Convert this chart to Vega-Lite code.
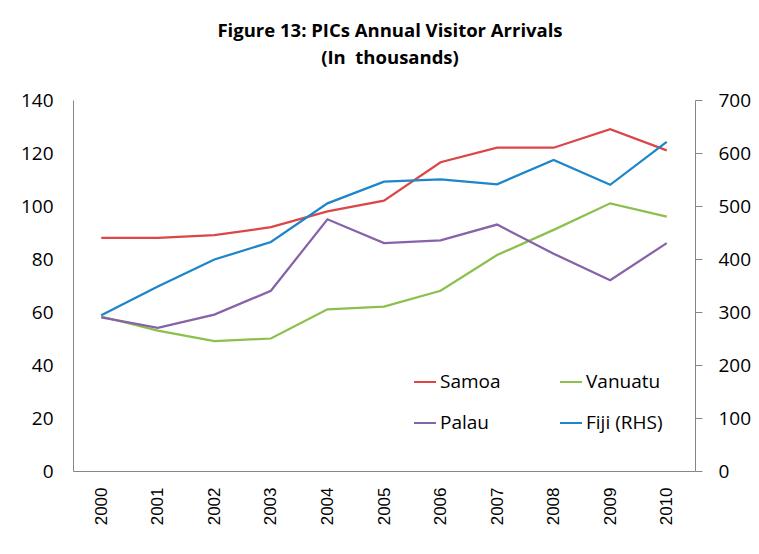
{
  "$schema": "https://vega.github.io/schema/vega-lite/v6.json",
  "width": 622,
  "height": 371,
  "autosize": {"type": "none"},
  "padding": {"left": 73, "top": 100, "right": 64, "bottom": 83},
  "background": "white",
  "config": {
    "view": {"stroke": null},
    "axis": {"grid": false, "domainColor": "#868686", "domainWidth": 1, "labelColor": "#000000", "tickColor": "#868686"},
    "legend": {
      "orient": "none", "legendX": 340, "legendY": 270, "columns": 2, "symbolType": "stroke",
      "symbolSize": 484, "symbolStrokeWidth": 2, "labelFont": "Open Sans", "labelFontSize": 19,
      "labelColor": "#000000", "rowPadding": 19, "columnPadding": 55, "padding": 0, "labelOffset": 3
    }
  },
  "title": {
    "text": ["Figure 13: PICs Annual Visitor Arrivals", "(In\u00a0 thousands)"],
    "font": "Open Sans", "fontSize": 18.5, "fontWeight": "bold", "lineHeight": 27,
    "offset": 24, "dx": 6, "anchor": "middle", "color": "#000000"
  },
  "data": {
    "values": [
      {"year": "2000", "series": "Samoa", "value": 88},
      {"year": "2001", "series": "Samoa", "value": 88},
      {"year": "2002", "series": "Samoa", "value": 89},
      {"year": "2003", "series": "Samoa", "value": 92},
      {"year": "2004", "series": "Samoa", "value": 98},
      {"year": "2005", "series": "Samoa", "value": 102},
      {"year": "2006", "series": "Samoa", "value": 116.5},
      {"year": "2007", "series": "Samoa", "value": 122},
      {"year": "2008", "series": "Samoa", "value": 122},
      {"year": "2009", "series": "Samoa", "value": 129},
      {"year": "2010", "series": "Samoa", "value": 121},
      {"year": "2000", "series": "Vanuatu", "value": 58.3},
      {"year": "2001", "series": "Vanuatu", "value": 53},
      {"year": "2002", "series": "Vanuatu", "value": 49},
      {"year": "2003", "series": "Vanuatu", "value": 50},
      {"year": "2004", "series": "Vanuatu", "value": 61},
      {"year": "2005", "series": "Vanuatu", "value": 62},
      {"year": "2006", "series": "Vanuatu", "value": 68},
      {"year": "2007", "series": "Vanuatu", "value": 81.5},
      {"year": "2008", "series": "Vanuatu", "value": 91},
      {"year": "2009", "series": "Vanuatu", "value": 101},
      {"year": "2010", "series": "Vanuatu", "value": 96},
      {"year": "2000", "series": "Palau", "value": 58},
      {"year": "2001", "series": "Palau", "value": 54},
      {"year": "2002", "series": "Palau", "value": 59},
      {"year": "2003", "series": "Palau", "value": 68},
      {"year": "2004", "series": "Palau", "value": 95},
      {"year": "2005", "series": "Palau", "value": 86},
      {"year": "2006", "series": "Palau", "value": 87},
      {"year": "2007", "series": "Palau", "value": 93},
      {"year": "2008", "series": "Palau", "value": 82},
      {"year": "2009", "series": "Palau", "value": 72},
      {"year": "2010", "series": "Palau", "value": 86},
      {"year": "2000", "series": "Fiji (RHS)", "value": 294},
      {"year": "2001", "series": "Fiji (RHS)", "value": 348},
      {"year": "2002", "series": "Fiji (RHS)", "value": 399},
      {"year": "2003", "series": "Fiji (RHS)", "value": 432},
      {"year": "2004", "series": "Fiji (RHS)", "value": 505},
      {"year": "2005", "series": "Fiji (RHS)", "value": 546},
      {"year": "2006", "series": "Fiji (RHS)", "value": 550},
      {"year": "2007", "series": "Fiji (RHS)", "value": 541},
      {"year": "2008", "series": "Fiji (RHS)", "value": 587},
      {"year": "2009", "series": "Fiji (RHS)", "value": 540},
      {"year": "2010", "series": "Fiji (RHS)", "value": 621}
    ]
  },
  "encoding": {
    "x": {
      "field": "year", "type": "ordinal", "sort": null,
      "axis": {"labelAngle": -90, "labelFont": "Liberation Sans", "labelFontSize": 17, "ticks": false, "labelPadding": 16, "title": null}
    },
    "color": {
      "field": "series", "type": "nominal",
      "scale": {"domain": ["Samoa", "Palau", "Vanuatu", "Fiji (RHS)"], "range": ["#dc4646", "#8662a8", "#8cc04c", "#1c86c8"]},
      "legend": {"title": null}
    }
  },
  "layer": [
    {
      "transform": [{"filter": "datum.series !== 'Fiji (RHS)'"}],
      "mark": {"type": "line", "strokeWidth": 2.25},
      "encoding": {
        "y": {
          "field": "value", "type": "quantitative",
          "scale": {"domain": [0, 140], "nice": false},
          "axis": {"values": [0, 20, 40, 60, 80, 100, 120, 140], "ticks": false, "labelPadding": 20, "labelFont": "Open Sans", "labelFontSize": 19, "title": null}
        }
      }
    },
    {
      "transform": [{"filter": "datum.series === 'Fiji (RHS)'"}],
      "mark": {"type": "line", "strokeWidth": 2.25},
      "encoding": {
        "y": {
          "field": "value", "type": "quantitative",
          "scale": {"domain": [0, 700], "nice": false},
          "axis": {"orient": "right", "values": [0, 100, 200, 300, 400, 500, 600, 700], "ticks": true, "tickSize": 7, "labelPadding": 16, "labelFont": "Open Sans", "labelFontSize": 19, "title": null}
        }
      }
    }
  ],
  "resolve": {"scale": {"y": "independent"}}
}
